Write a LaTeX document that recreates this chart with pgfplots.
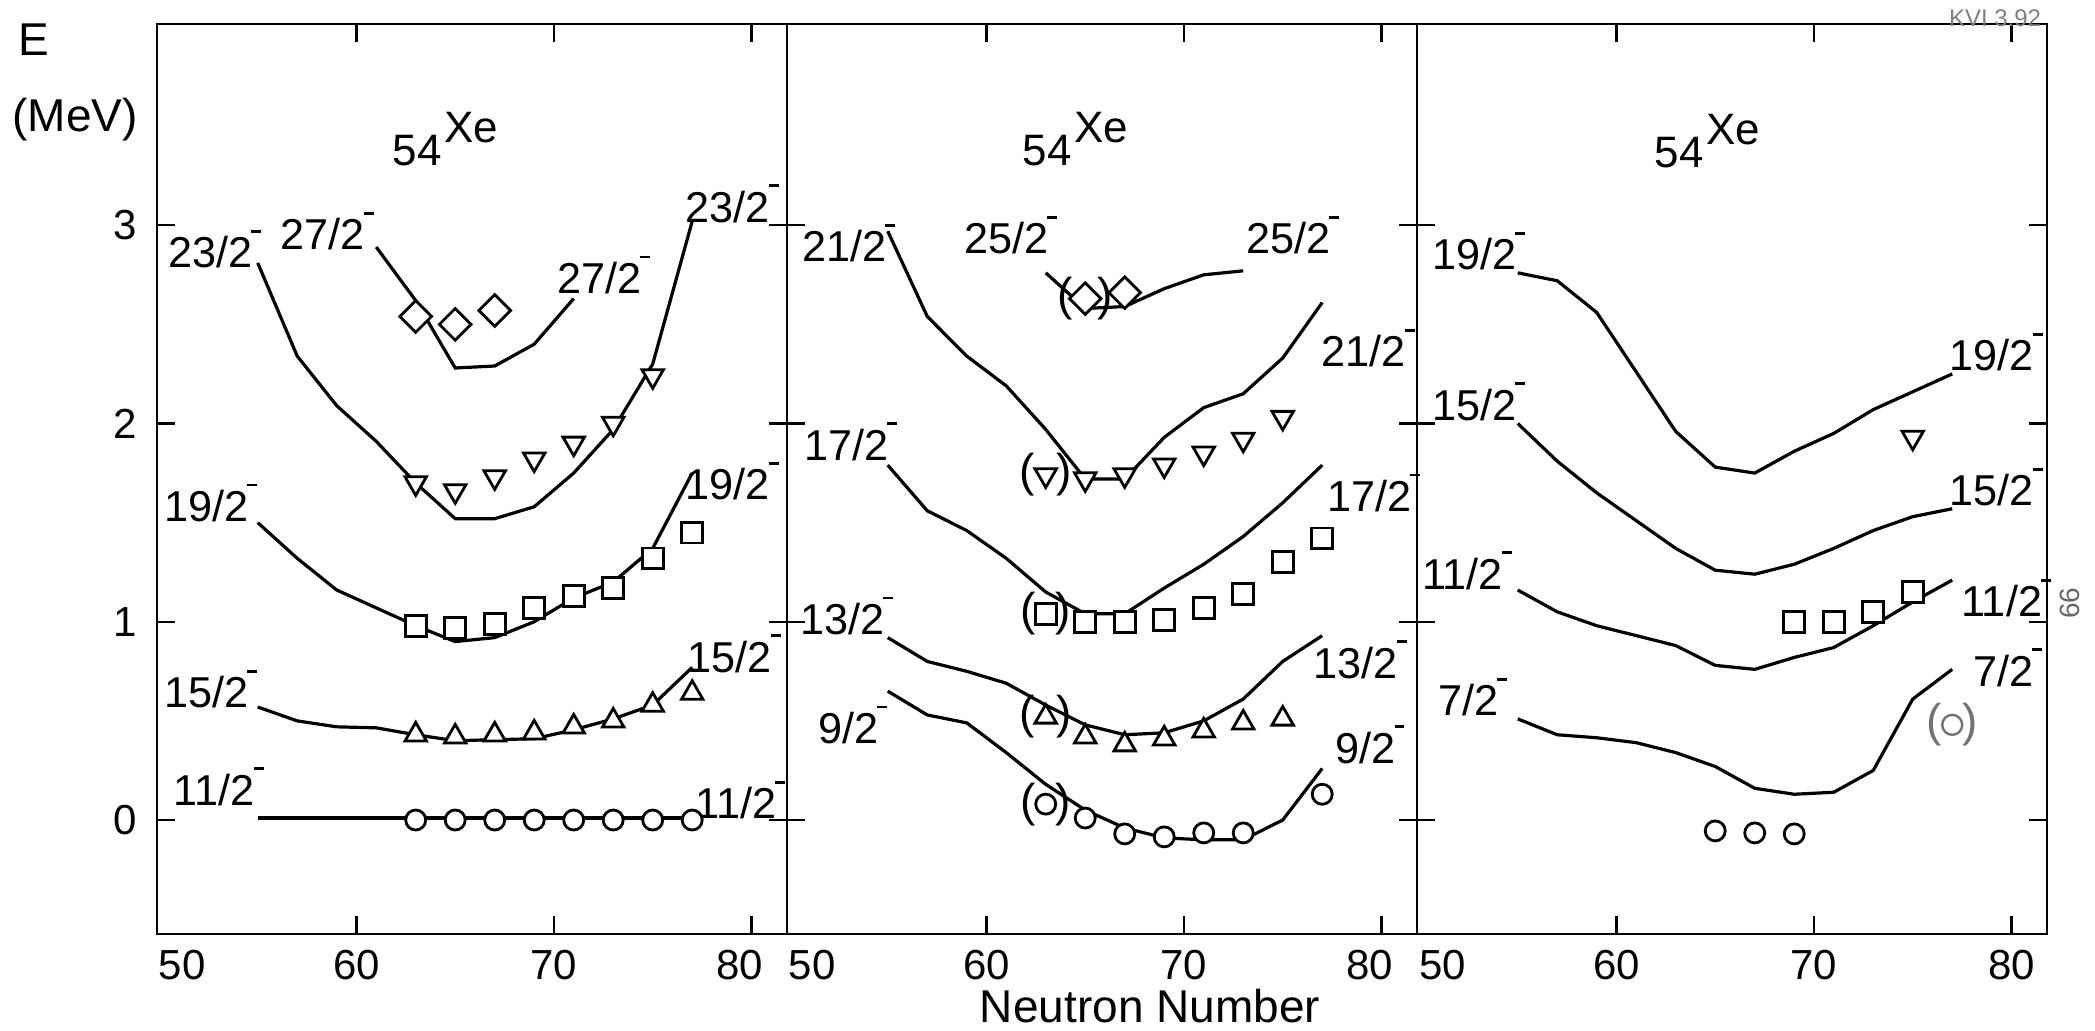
\documentclass[border=0pt]{standalone}
\usepackage{fontspec}
\setmainfont{Liberation Sans}
\usepackage{pgfplots}
\pgfplotsset{compat=1.18}

\newcommand\jl[1]{#1\rlap{\hspace{-0.3pt}\raisebox{8.8pt}{\rule{2.5pt}{0.7pt}}}}
\newcommand\lf{\fontsize{10.8}{12}\selectfont}

\pgfplotsset{
  panel/.style={
    width=157.5pt, height=227.5pt, scale only axis,
    anchor=south west,
    xmin=49.9, xmax=81.8, ymin=-0.575, ymax=4.015,
    xtick={60,70,80},
    extra x ticks={50},
    extra x tick labels={\hphantom{00}50},
    extra x tick style={major tick length=0pt},
    ytick={0,1,2,3},
    tick align=inside,
    major tick length=4.5pt,
    axis line style={line width=0.7pt},
    every tick/.style={black, line width=0.6pt},
    tick label style={font=\fontsize{10.5}{12}\selectfont},
    yticklabel style={xshift=-1.5pt},
    xticklabel style={yshift=-0.6pt},
    clip=false,
  },
  curve/.style={black, line width=0.8pt, mark=none},
  circ/.style={only marks, mark=*, mark size=2.5pt, mark options={fill=white, draw=black, line width=0.7pt}},
  tri/.style={only marks, mark=triangle*, mark size=3.1pt, mark options={fill=white, draw=black, line width=0.7pt}},
  itri/.style={only marks, mark=triangle*, mark size=3.1pt, mark options={rotate=180, fill=white, draw=black, line width=0.7pt}},
  sq/.style={only marks, mark=square*, mark size=2.6pt, mark options={fill=white, draw=black, line width=0.7pt}},
  dia/.style={only marks, mark=square*, mark size=2.8pt, mark options={rotate=45, fill=white, draw=black, line width=0.7pt}},
}
\tikzset{
  lab/.style={font=\lf, inner sep=0pt, anchor=center},
  par/.style={font=\fontsize{11.5}{12}\selectfont, inner sep=0pt},
  ttl/.style={font=\fontsize{11}{12}\selectfont, inner sep=0pt, anchor=base west},
}

\begin{document}
\begin{tikzpicture}
\useasboundingbox (0,0) rectangle (523.75pt,257.5pt);

% ---------------- Panel 1 ----------------
\begin{axis}[panel, at={(39.25pt,24pt)}, yticklabels={0,1,2,3}, xticklabels={60,70,80\hphantom{0}}]
\addplot[curve] coordinates {(55,0.01)(57,0.01)(59,0.01)(61,0.01)(63,0.01)(65,0.01)(67,0.01)(69,0.01)(71,0.01)(73,0.01)(75,0.01)(77,0.01)};
\addplot[curve] coordinates {(55,0.57)(57,0.50)(59,0.47)(61,0.465)(63,0.43)(65,0.40)(67,0.405)(69,0.41)(71,0.455)(73,0.51)(75,0.58)(77,0.77)};
\addplot[curve] coordinates {(55,1.50)(57,1.32)(59,1.16)(61,1.07)(63,0.98)(65,0.90)(67,0.92)(69,1.00)(71,1.12)(73,1.20)(75,1.37)(77,1.75)};
\addplot[curve] coordinates {(55,2.81)(57,2.34)(59,2.09)(61,1.91)(63,1.70)(65,1.52)(67,1.52)(69,1.58)(71,1.75)(73,1.97)(75,2.30)(77,3.02)};
\addplot[curve] coordinates {(61,2.89)(63,2.62)(65,2.28)(67,2.29)(69,2.40)(71,2.63)};
\addplot[circ] coordinates {(63,0)(65,0)(67,0)(69,0)(71,0)(73,0)(75,0)(77,0)};
\addplot[tri] coordinates {(63,0.43)(65,0.42)(67,0.43)(69,0.44)(71,0.47)(73,0.50)(75,0.58)(77,0.64)};
\addplot[sq] coordinates {(63,0.98)(65,0.97)(67,0.99)(69,1.07)(71,1.13)(73,1.17)(75,1.32)(77,1.45)};
\addplot[itri] coordinates {(63,1.70)(65,1.66)(67,1.73)(69,1.82)(71,1.90)(73,2.00)(75,2.24)};
\addplot[dia] coordinates {(63,2.54)(65,2.50)(67,2.57)};
\node[ttl] at (axis cs:61.8,3.30) {54\hspace{0.6pt}\raisebox{5.75pt}{Xe}};
\node[lab] at (axis cs:52.6,2.88) {\jl{23/2}};
\node[lab] at (axis cs:58.3,2.97) {\jl{27/2}};
\node[lab] at (axis cs:72.3,2.75) {\jl{27/2}};
\node[lab] at (axis cs:78.8,3.11) {\jl{23/2}};
\node[lab] at (axis cs:52.4,1.60) {\jl{19/2}};
\node[lab] at (axis cs:78.8,1.71) {\jl{19/2}};
\node[lab] at (axis cs:52.4,0.66) {\jl{15/2}};
\node[lab] at (axis cs:78.9,0.84) {\jl{15/2}};
\node[lab] at (axis cs:52.8,0.17) {\jl{11/2}};
\node[lab] at (axis cs:79.2,0.10) {\jl{11/2}};
\end{axis}

% ---------------- Panel 2 ----------------
\begin{axis}[panel, at={(196.75pt,24pt)}, yticklabels={}, xticklabels={60,70,80\hphantom{0}}]
\addplot[curve] coordinates {(55,0.65)(57,0.53)(59,0.49)(61,0.34)(63,0.18)(65,0.05)(67,-0.04)(69,-0.09)(71,-0.10)(73,-0.10)(75,0.00)(77,0.26)};
\addplot[curve] coordinates {(55,0.92)(57,0.80)(59,0.75)(61,0.69)(63,0.58)(65,0.48)(67,0.43)(69,0.44)(71,0.50)(73,0.61)(75,0.80)(77,0.93)};
\addplot[curve] coordinates {(55,1.79)(57,1.56)(59,1.46)(61,1.32)(63,1.15)(65,1.04)(67,1.04)(69,1.17)(71,1.29)(73,1.43)(75,1.60)(77,1.79)};
\addplot[curve] coordinates {(55,2.97)(57,2.54)(59,2.34)(61,2.19)(63,1.97)(65,1.72)(67,1.72)(69,1.93)(71,2.08)(73,2.15)(75,2.33)(77,2.61)};
\addplot[curve] coordinates {(63,2.76)(65,2.58)(67,2.59)(69,2.68)(71,2.75)(73,2.77)};
\addplot[circ] coordinates {(63,0.08)(65,0.01)(67,-0.07)(69,-0.085)(71,-0.065)(73,-0.065)(77,0.13)};
\addplot[tri] coordinates {(63,0.52)(65,0.42)(67,0.38)(69,0.41)(71,0.45)(73,0.49)(75,0.51)};
\addplot[sq] coordinates {(63,1.04)(65,1.00)(67,1.00)(69,1.01)(71,1.07)(73,1.14)(75,1.30)(77,1.42)};
\addplot[itri] coordinates {(63,1.74)(65,1.72)(67,1.74)(69,1.79)(71,1.85)(73,1.92)(75,2.03)};
\addplot[dia] coordinates {(65,2.63)(67,2.66)};
\node[par] at (axis cs:63,0.08) {(\hspace{5pt})};
\node[par] at (axis cs:63,0.52) {(\hspace{5.5pt})};
\node[par] at (axis cs:63,1.04) {(\hspace{5pt})};
\node[par] at (axis cs:63,1.74) {(\hspace{5.5pt})};
\node[par] at (axis cs:65,2.63) {(\hspace{6pt})};
\node[ttl] at (axis cs:61.8,3.30) {54\hspace{0.6pt}\raisebox{5.75pt}{Xe}};
\node[lab] at (axis cs:61.0,2.95) {\jl{25/2}};
\node[lab] at (axis cs:75.3,2.95) {\jl{25/2}};
\node[lab] at (axis cs:52.8,2.91) {\jl{21/2}};
\node[lab] at (axis cs:79.1,2.38) {\jl{21/2}};
\node[lab] at (axis cs:52.9,1.91) {\jl{17/2}};
\node[lab] at (axis cs:79.4,1.65) {\jl{17/2}};
\node[lab] at (axis cs:52.7,1.03) {\jl{13/2}};
\node[lab] at (axis cs:78.7,0.81) {\jl{13/2}};
\node[lab] at (axis cs:53.0,0.48) {\jl{9/2}};
\node[lab] at (axis cs:79.2,0.38) {\jl{9/2}};
\end{axis}

% ---------------- Panel 3 ----------------
\begin{axis}[panel, at={(354.25pt,24pt)}, yticklabels={}, xticklabels={60,70,80}]
\addplot[curve] coordinates {(55,0.51)(57,0.43)(59,0.415)(61,0.39)(63,0.34)(65,0.27)(67,0.16)(69,0.13)(71,0.14)(73,0.25)(75,0.61)(77,0.76)};
\addplot[curve] coordinates {(55,1.16)(57,1.05)(59,0.98)(61,0.93)(63,0.88)(65,0.78)(67,0.76)(69,0.82)(71,0.87)(73,0.98)(75,1.10)(77,1.21)};
\addplot[curve] coordinates {(55,2.00)(57,1.81)(59,1.65)(61,1.51)(63,1.37)(65,1.26)(67,1.24)(69,1.29)(71,1.37)(73,1.46)(75,1.53)(77,1.57)};
\addplot[curve] coordinates {(55,2.76)(57,2.72)(59,2.56)(61,2.26)(63,1.96)(65,1.78)(67,1.75)(69,1.86)(71,1.95)(73,2.07)(75,2.16)(77,2.25)};
\addplot[circ] coordinates {(65,-0.055)(67,-0.065)(69,-0.07)};
\addplot[circ, mark options={fill=white, draw=black!55, line width=0.6pt}] coordinates {(77,0.48)};
\addplot[sq] coordinates {(69,1.00)(71,1.00)(73,1.05)(75,1.15)};
\addplot[itri] coordinates {(75,1.93)};
\node[par, text=black!55] at (axis cs:77,0.48) {(\hspace{5pt})};
\node[ttl] at (axis cs:61.9,3.29) {54\hspace{0.6pt}\raisebox{5.75pt}{Xe}};
\node[lab] at (axis cs:52.8,2.87) {\jl{19/2}};
\node[lab] at (axis cs:79.0,2.36) {\jl{19/2}};
\node[lab] at (axis cs:52.8,2.11) {\jl{15/2}};
\node[lab] at (axis cs:79.0,1.68) {\jl{15/2}};
\node[lab] at (axis cs:52.2,1.26) {\jl{11/2}};
\node[lab] at (axis cs:79.5,1.12) {\jl{11/2}};
\node[lab] at (axis cs:52.5,0.62) {\jl{7/2}};
\node[lab] at (axis cs:79.6,0.77) {\jl{7/2}};
\end{axis}

% ---------------- outer texts ----------------
\node[font=\fontsize{11.5}{13}\selectfont, inner sep=0pt] at (8.5pt,247.5pt) {E};
\node[font=\fontsize{11.5}{13}\selectfont, inner sep=0pt] at (18.75pt,227.5pt) {(MeV)};
\node[font=\fontsize{11.5}{13}\selectfont, inner sep=0pt] at (287.5pt,6pt) {Neutron Number};
\node[font=\fontsize{6}{7}\selectfont, text=black!50, inner sep=0pt] at (498.75pt,253pt) {KVI 3.92};
\node[font=\fontsize{7}{8}\selectfont, text=black!60, inner sep=0pt, rotate=90] at (517.5pt,106.75pt) {66};
\end{tikzpicture}
\end{document}
